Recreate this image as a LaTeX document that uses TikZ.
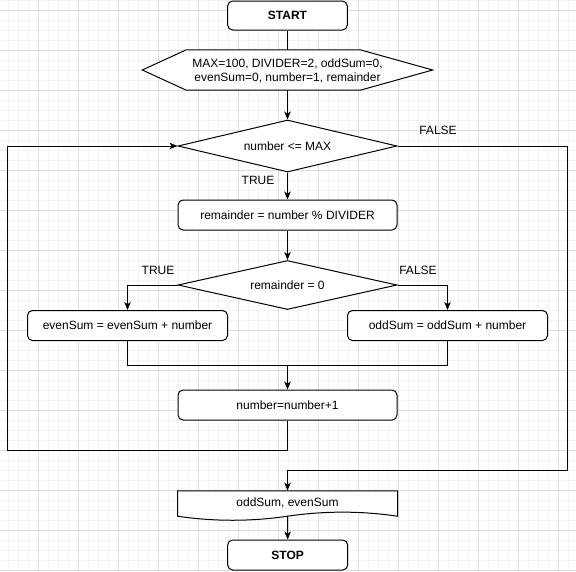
\documentclass[tikz,border=0pt]{standalone}
\usepackage{fontspec}
\setmainfont{Liberation Sans}
\usetikzlibrary{shapes.geometric,arrows.meta}
\definecolor{gridminor}{RGB}{243,243,243}
\definecolor{gridmajor}{RGB}{222,222,222}
\begin{document}
\begin{tikzpicture}[x=1pt,y=-1pt,
  every node/.style={font=\fontsize{12}{14}\selectfont, text=black},
  ln/.style={draw=black, line width=1pt},
  arr/.style={ln, -{Stealth[length=8pt,width=6.5pt,inset=2.2pt]}},
  box/.style={draw=black, line width=1pt, rounded corners=5pt, fill=white,
    minimum width=#1, minimum height=30pt, inner sep=0pt},
  dia/.style={draw=black, line width=1pt, diamond, aspect=4.2, fill=white,
    minimum width=219pt, minimum height=#1, inner sep=0pt},
  plain/.style={draw=none, inner sep=0pt},
  lbl/.style={inner sep=0pt}
]
\useasboundingbox (0,0) rectangle (576,571);
\fill[white] (0,0) rectangle (576,571);
% grid
\foreach \x in {8,18,...,568} \draw[gridminor, line width=0.8pt] (\x,0) -- (\x,571);
\foreach \y in {0,10,...,570} \draw[gridminor, line width=0.8pt] (0,\y) -- (576,\y);
\foreach \x in {38,78,...,558} \draw[gridmajor, line width=0.8pt] (\x,0) -- (\x,571);
\foreach \y in {10,50,...,570} \draw[gridmajor, line width=0.8pt] (0,\y) -- (576,\y);

% nodes
\node[box=119.6pt, minimum height=29pt, font=\fontsize{12}{14}\selectfont\bfseries] (start) at (287.5,15.5) {START};

\node[plain, minimum width=290pt, minimum height=40pt] (hex) at (287.5,70) {};
% connector whose head is hidden under the hexagon, as in the reference
\draw[arr] (start.south) -- (hex.center);
\filldraw[fill=white, draw=black, line width=1pt]
  (hex.west) -- ([xshift=44pt]hex.north west) -- ([xshift=-72.5pt]hex.north east)
  -- (hex.east) -- ([xshift=-72.5pt]hex.south east) -- ([xshift=44pt]hex.south west) -- cycle;
\node[plain, align=center] (hextext) at (287.5,70.5) {MAX=100, DIVIDER=2, oddSum=0,\\evenSum=0, number=1, remainder};

\node[dia=52pt] (d1) at (287.5,146) {number <= MAX};
\node[box=219pt] (rem) at (287.5,215) {remainder = number \% DIVIDER};
\node[dia=49pt] (d2) at (287.5,285) {remainder = 0};
\node[box=200pt] (even) at (127.5,325.5) {evenSum = evenSum + number};
\node[box=200pt] (odd) at (447.5,325.5) {oddSum = oddSum + number};
\node[box=219pt] (inc) at (287.5,405) {number=number+1};

\filldraw[fill=white, draw=black, line width=1pt]
  (177.5,490.75) -- (397.5,490.75) -- (397.5,516.2)
  .. controls (360.8,510.8) and (324.2,510.8) .. (287.5,516.2)
  .. controls (250.8,521.6) and (214.2,521.6) .. (177.5,516.2) -- cycle;
\node[plain, minimum width=220pt, minimum height=24.5pt] (out) at (287.5,503) {oddSum, evenSum};
\coordinate (outb) at (287.5,516.2);

\node[box=120pt] (stop) at (287.7,555) {\bfseries STOP};

% labels
\node[lbl] (t1) at (258,180.5) {TRUE};
\node[lbl] (f1) at (438,130) {FALSE};
\node[lbl] (t2) at (158,270.5) {TRUE};
\node[lbl] (f2) at (418,270.5) {FALSE};

% connectors
\coordinate (j) at (287.5,365);
\coordinate (lb) at (287.5,450);
\coordinate (ll) at (7.5,450);
\coordinate (rr) at (567.5,470);

\draw[arr] (hex.south) -- (d1.north);
\draw[arr] (d1.south) -- (rem.north);
\draw[arr] (rem.south) -- (d2.north);
\draw[arr] (d2.west) -| (even.north);
\draw[arr] (d2.east) -| (odd.north);
\draw[ln] (even.south) |- (j);
\draw[ln] (odd.south) |- (j);
\draw[arr] (j) -- (inc.north);
\draw[arr] (inc.south) -- (lb) -- (ll) |- (d1.west);
\draw[arr] (d1.east) -| (rr) -| (out.north);
\draw[arr] (outb) -- (stop.north);
\end{tikzpicture}
\end{document}
